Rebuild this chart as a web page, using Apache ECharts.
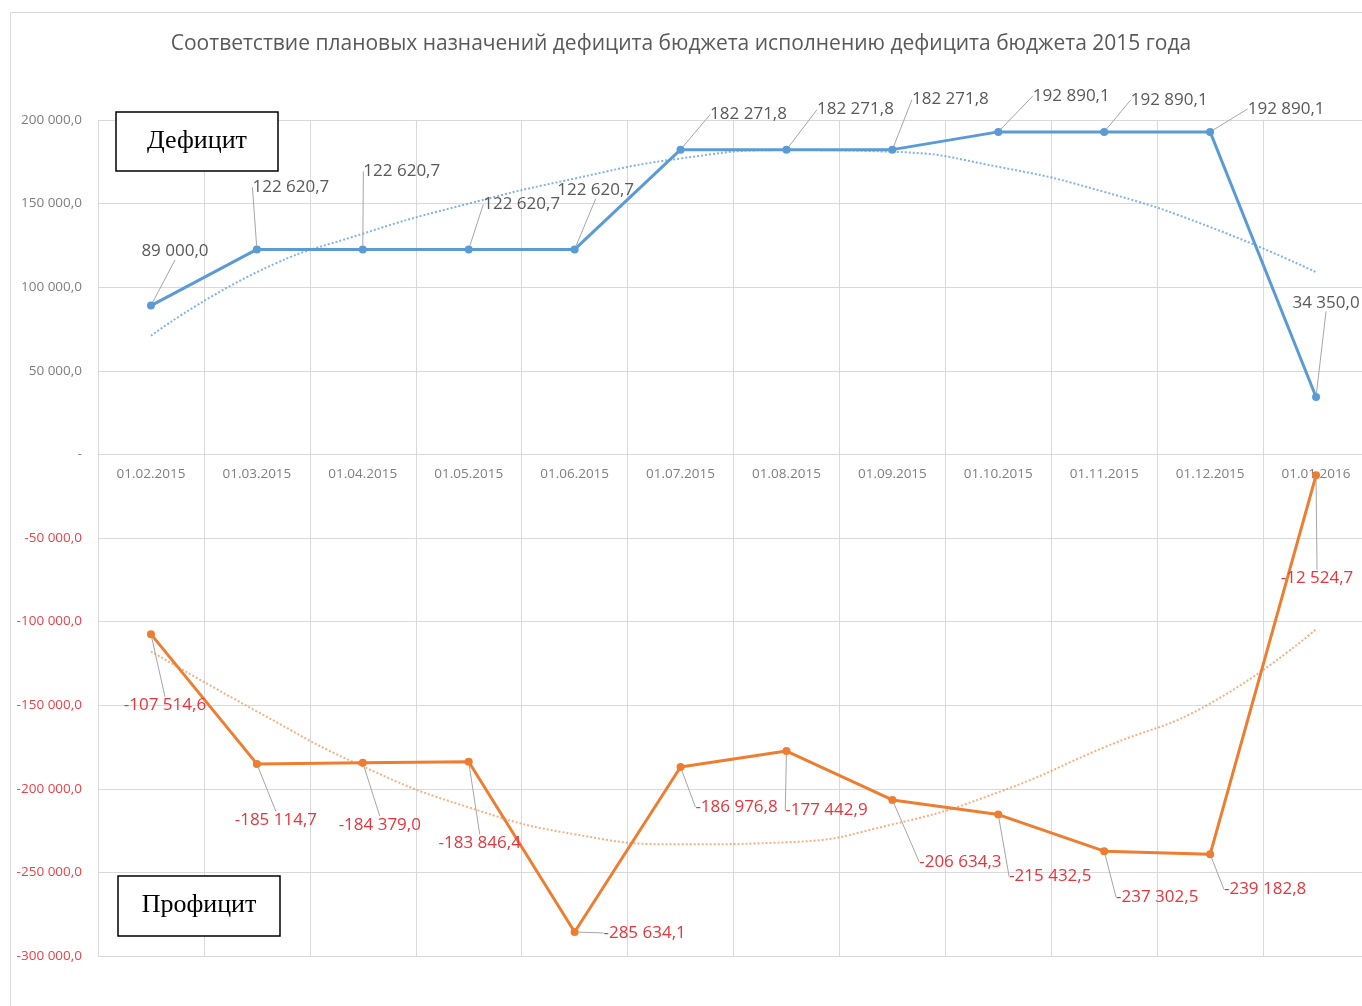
<!DOCTYPE html>
<html><head><meta charset="utf-8">
<script src="https://cdn.jsdelivr.net/npm/echarts@6/dist/echarts.min.js"></script>
<style>html,body{margin:0;padding:0;background:#fff}#c{width:1362px;height:1006px}</style>
</head><body><div id="c"></div>
<script>
// ---- data ----
const categories = ['01.02.2015','01.03.2015','01.04.2015','01.05.2015','01.06.2015','01.07.2015','01.08.2015','01.09.2015','01.10.2015','01.11.2015','01.12.2015','01.01.2016'];
const deficit = [89000.0, 122620.7, 122620.7, 122620.7, 122620.7, 182271.8, 182271.8, 182271.8, 192890.1, 192890.1, 192890.1, 34350.0];
const surplus = [-107514.6, -185114.7, -184379.0, -183846.4, -285634.1, -186976.8, -177442.9, -206634.3, -215432.5, -237302.5, -239182.8, -12524.7];
// trend lines
const deficitTrend = [71000, 109000, 132000, 150000, 165000, 177000, 182000, 181000, 172000, 157000, 136000, 109000];
const surplusTrend = [-117800, -153700, -186600, -211100, -227200, -233200, -232000, -221300, -202100, -175200, -149000, -104600];
const yMin = -300000, yMax = 200000, yStep = 50000;
const titleText = 'Соответствие плановых назначений дефицита бюджета исполнению дефицита бюджета 2015 года';
const boxTop = 'Дефицит', boxBottom = 'Профицит';

// ---- label offsets (style) ----
const deficitLabelOffsets = [[24,-54],[34,-62],[39,-78],[53,-45],[21,-59],[68,-35],[69,-40],[58,-50],[73,-36],[65,-32],[76,-23],[10,-94]];
const surplusLabelOffsets = [[14,71],[19,56],[17,62],[11,81],[70,1],[56,40],[40,59],[68,62],[52,62],[53,46],[55,35],[1,103]];

function fmt(v){
  const neg = v < 0;
  let [i,d] = Math.abs(v).toFixed(1).split('.');
  i = i.replace(/\B(?=(\d{3})+(?!\d))/g, ' ');
  return (neg ? '-' : '') + i + ',' + d;
}

const chart = echarts.init(document.getElementById('c'));
const font = 'Open Sans';
const gridTop = 120, gridH = 836;
const zeroOffset = -Math.round(gridH * (0 - yMin) / (yMax - yMin));
chart.setOption({
  animation: false,
  backgroundColor: '#fff',
  title: {
    text: titleText, left: 'center', top: 29,
    textStyle: {fontFamily: font, fontSize: 21, fontWeight: 'normal', color: '#595959'}
  },
  grid: {left: 98, top: gridTop, width: 1271, height: gridH, containLabel: false, outerBoundsMode: 'none'},
  xAxis: {
    type: 'category', data: categories, boundaryGap: true,
    offset: zeroOffset,
    axisLine: {onZero: false, lineStyle: {color: '#d9d9d9'}},
    axisTick: {show: false},
    axisLabel: {interval: 0, margin: 13, fontFamily: font, fontSize: 13.5, color: '#7f7f7f'},
    splitLine: {show: true, interval: 0, lineStyle: {color: '#d9d9d9'}}
  },
  yAxis: {
    type: 'value', min: yMin, max: yMax, interval: yStep,
    axisLine: {show: false},
    axisTick: {show: false},
    axisLabel: {
      margin: 16, fontFamily: font, fontSize: 13.5,
      color: v => (Number(v) < 0 ? '#e8434a' : '#7f7f7f'),
      formatter: v => (v === 0 ? '-' : fmt(v))
    },
    splitLine: {lineStyle: {color: '#d9d9d9'}}
  },
  graphic: [
    {type: 'rect', z: -10, silent: true, shape: {x: 10.5, y: 12.5, width: 1400, height: 1100}, style: {fill: 'none', stroke: '#d9d9d9', lineWidth: 1}},
    {type: 'rect', z: 100, shape: {x: 116, y: 112, width: 162, height: 59}, style: {fill: '#fff', stroke: '#000', lineWidth: 1.5}},
    {type: 'text', z: 101, x: 197, y: 141, style: {text: boxTop, fontFamily: 'Liberation Serif', fontSize: 26, fill: '#000', align: 'center', verticalAlign: 'middle'}},
    {type: 'rect', z: 100, shape: {x: 118, y: 876, width: 162, height: 60}, style: {fill: '#fff', stroke: '#000', lineWidth: 1.5}},
    {type: 'text', z: 101, x: 199, y: 905, style: {text: boxBottom, fontFamily: 'Liberation Serif', fontSize: 26, fill: '#000', align: 'center', verticalAlign: 'middle'}}
  ],
  series: [
    {
      type: 'line', data: deficitTrend, smooth: true, symbol: 'none', silent: true, z: 1,
      lineStyle: {color: '#5b9bd5', width: 2, type: 'dotted', opacity: 0.75}
    },
    {
      type: 'line', data: surplusTrend, smooth: true, symbol: 'none', silent: true, z: 1,
      lineStyle: {color: '#ed7d31', width: 2, type: 'dotted', opacity: 0.6}
    },
    {
      type: 'line', data: deficit, z: 3,
      symbol: 'circle', symbolSize: 8,
      itemStyle: {color: '#5b9bd5'},
      lineStyle: {color: '#5b9bd5', width: 3},
      label: {show: true, position: 'inside', formatter: p => fmt(p.value), fontFamily: font, fontSize: 17, color: '#595959'},
      labelLine: {show: true, lineStyle: {color: '#a6a6a6', width: 1}},
      labelLayout: p => ({dx: deficitLabelOffsets[p.dataIndex][0], dy: deficitLabelOffsets[p.dataIndex][1]})
    },
    {
      type: 'line', data: surplus, z: 3,
      symbol: 'circle', symbolSize: 8,
      itemStyle: {color: '#ed7d31'},
      lineStyle: {color: '#ed7d31', width: 3},
      label: {show: true, position: 'inside', formatter: p => fmt(p.value), fontFamily: font, fontSize: 17, color: '#e8343c'},
      labelLine: {show: true, lineStyle: {color: '#a6a6a6', width: 1}},
      labelLayout: p => ({dx: surplusLabelOffsets[p.dataIndex][0], dy: surplusLabelOffsets[p.dataIndex][1]})
    }
  ]
});
</script></body></html>
